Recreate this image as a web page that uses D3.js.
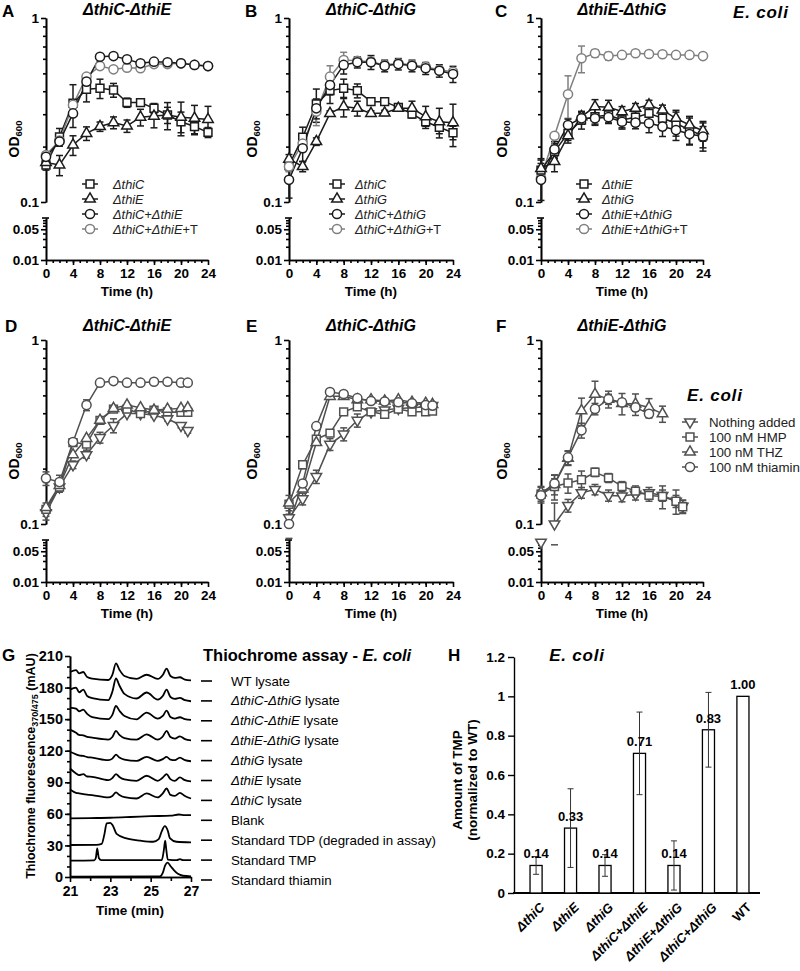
<!DOCTYPE html>
<html>
<head>
<meta charset="utf-8">
<script src="https://cdn.jsdelivr.net/npm/d3@7/dist/d3.min.js"></script>
<style>
html,body{margin:0;padding:0;background:#fff;}
svg{display:block;}
</style>
</head>
<body>
<svg id="chart" width="800" height="971"></svg>
<script>
// ================= DATA =================
const hours = [0, 2, 4, 6, 8, 10, 12, 14, 16, 18, 20, 22, 24];
const hoursB = [0, 2, 4, 6, 8, 10, 12, 14, 16, 18, 20, 21];
const hoursTo18 = [0, 2, 4, 6, 8, 10, 12, 14, 16, 18];
const hoursTo16 = [0, 2, 4, 6, 8, 10, 12, 14, 16];
const timeTicks = [0, 4, 8, 12, 16, 20, 24];
const odMajorTicks = [0.1, 1];
const odMinorTicks = [0.2, 0.3, 0.4, 0.5, 0.6, 0.7, 0.8, 0.9];
const odLowTicks = [0.01, 0.05];
const odLowMinor = [0.02, 0.03, 0.04, 0.06, 0.07, 0.08];

// Panel A  (ΔthiC-ΔthiE)
const aThiC    = [0.159, 0.226, 0.344, 0.41, 0.415, 0.406, 0.347, 0.347, 0.323, 0.297, 0.273, 0.257, 0.239];
const aThiCErr = [0.01, 0.025, 0.09, 0.06, 0.05, 0.035, 0.02, 0.015, 0.02, 0.03, 0.035, 0.025, 0.015];
const aThiE    = [0.164, 0.159, 0.204, 0.236, 0.257, 0.27, 0.259, 0.289, 0.293, 0.297, 0.289, 0.285, 0.281];
const aThiEErr = [0.01, 0.02, 0.025, 0.02, 0.015, 0.02, 0.02, 0.03, 0.04, 0.05, 0.06, 0.05, 0.05];
const aThiCE   = [0.176, 0.213, 0.303, 0.451, 0.616, 0.621, 0.596, 0.567, 0.579, 0.575, 0.567, 0.556, 0.548];
const aThiCET  = [0.18, 0.216, 0.337, 0.48, 0.548, 0.526, 0.537, 0.533, 0.562, 0.562, 0.567, 0.556, 0.548];

// Panel B  (ΔthiC-ΔthiG)
const bThiC     = [0.158, 0.225, 0.341, 0.403, 0.415, 0.403, 0.351, 0.351, 0.327, 0.301, 0.273, 0.255, 0.238];
const bThiCErr  = [0.01, 0.03, 0.07, 0.06, 0.05, 0.035, 0.015, 0.015, 0.015, 0.015, 0.015, 0.02, 0.02];
const bThiG     = [0.171, 0.156, 0.213, 0.303, 0.33, 0.323, 0.303, 0.305, 0.323, 0.323, 0.291, 0.273, 0.27];
const bThiGErr  = [0.01, 0.01, 0.01, 0.01, 0.04, 0.03, 0.01, 0.01, 0.01, 0.03, 0.04, 0.05, 0.07];
const bThiCG    = [0.132, 0.196, 0.323, 0.432, 0.556, 0.575, 0.575, 0.55, 0.562, 0.55, 0.533, 0.517, 0.496];
const bThiCGErr = [0.027, 0.03, 0.04, 0.05, 0.06, 0.04, 0.05, 0.04, 0.04, 0.04, 0.04, 0.04, 0.05];
const bThiCGT   = [0.156, 0.208, 0.31, 0.48, 0.591, 0.585, 0.579, 0.556, 0.567, 0.556, 0.544, 0.522, 0.51];
const bThiCGTErr= [0.01, 0.02, 0.05, 0.07, 0.06, 0.03, 0.03, 0.02, 0.02, 0.02, 0.02, 0.02, 0.02];

// Panel C  (ΔthiE-ΔthiG)
const cThiE      = [0.149, 0.188, 0.236, 0.279, 0.291, 0.297, 0.279, 0.289, 0.303, 0.285, 0.268, 0.246, 0.229];
const cThiEErr   = [0.02, 0.02, 0.02, 0.03, 0.03, 0.03, 0.03, 0.03, 0.03, 0.04, 0.04, 0.04, 0.04];
const cThiG      = [0.152, 0.166, 0.229, 0.291, 0.33, 0.327, 0.31, 0.323, 0.337, 0.316, 0.285, 0.262, 0.244];
const cThiGErr   = [0.02, 0.02, 0.02, 0.02, 0.03, 0.03, 0.02, 0.02, 0.02, 0.02, 0.03, 0.03, 0.03];
const cThiEG     = [0.132, 0.193, 0.262, 0.285, 0.285, 0.289, 0.273, 0.27, 0.268, 0.257, 0.246, 0.234, 0.227];
const cThiEGErr  = [0.03, 0.02, 0.02, 0.02, 0.02, 0.02, 0.02, 0.02, 0.03, 0.03, 0.03, 0.03, 0.03];
const cThiEGT    = [0.135, 0.229, 0.385, 0.604, 0.643, 0.621, 0.63, 0.643, 0.637, 0.635, 0.63, 0.63, 0.621];
const cThiEGTErr = [0, 0, 0.1, 0.1, 0.03, 0.03, 0, 0, 0, 0, 0, 0, 0];

// Panel D  (ΔthiC-ΔthiE, supplements)
const dNone       = [0.115, 0.159, 0.21, 0.238, 0.295, 0.343, 0.398, 0.398, 0.39, 0.373, 0.343, 0.322];
const dNoneErr    = [0.01, 0.01, 0.01, 0.01, 0.02, 0.03, 0.01, 0.01, 0.01, 0.01, 0.01, 0.01];
const dHMP        = [0.12, 0.159, 0.277, 0.272, 0.366, 0.421, 0.421, 0.398, 0.416, 0.407, 0.404, 0.404];
const dHMPErr     = [0.01, 0.01, 0.01, 0.02, 0.015, 0.01, 0.01, 0.01, 0.01, 0.01, 0.01, 0.01];
const dTHZ        = [0.123, 0.162, 0.238, 0.292, 0.366, 0.425, 0.443, 0.428, 0.416, 0.421, 0.425, 0.428];
const dThiamin    = [0.177, 0.169, 0.279, 0.443, 0.586, 0.598, 0.586, 0.586, 0.593, 0.593, 0.586, 0.586];
const dThiaminErr = [0.015, 0.015, 0.01, 0.03, 0, 0, 0, 0, 0, 0, 0, 0];

// Panel E  (ΔthiC-ΔthiG, supplements)
const eNone    = [0.108, 0.137, 0.181, 0.271, 0.308, 0.366, 0.407, 0.416, 0.425, 0.428, 0.434, 0.44];
const eNoneErr = [0.01, 0.01, 0.015, 0.02, 0.025, 0.03, 0.01, 0.01, 0.01, 0.01, 0.01, 0.01];
const eHMP     = [0.128, 0.21, 0.289, 0.312, 0.407, 0.434, 0.407, 0.394, 0.421, 0.407, 0.407, 0.411];
const eHMPErr  = [0.015, 0.01, 0.01, 0.01, 0.01, 0.01, 0.01, 0.01, 0.01, 0.01, 0.01, 0.01];
const eTHZ     = [0.13, 0.155, 0.277, 0.494, 0.494, 0.473, 0.473, 0.466, 0.473, 0.459, 0.453, 0.447];
const eThiamin = [0.1, 0.166, 0.34, 0.521, 0.509, 0.483, 0.466, 0.463, 0.459, 0.453, 0.443, 0.44];

// Panel F  (ΔthiE-ΔthiG, supplements)
const fNone       = [0.08, 0.1, 0.126, 0.148, 0.154, 0.143, 0.142, 0.145, 0.148, 0.143, 0.133, 0.125];
const fNoneErr    = [0, 0.03, 0.01, 0.01, 0.01, 0.01, 0.01, 0.01, 0.01, 0.01, 0.01, 0.01];
const fHMP        = [0.145, 0.16, 0.167, 0.174, 0.191, 0.178, 0.16, 0.151, 0.143, 0.141, 0.133, 0.124];
const fHMPErr     = [0.015, 0.025, 0.02, 0.02, 0.01, 0.01, 0.01, 0.01, 0.01, 0.02, 0.02, 0.01];
const fTHZ        = [0.148, 0.164, 0.228, 0.413, 0.507, 0.477, 0.452, 0.449, 0.43, 0.397];
const fTHZErr     = [0.01, 0.02, 0.02, 0.07, 0.09, 0.05, 0.06, 0.06, 0.05, 0.04];
const fThiamin    = [0.143, 0.166, 0.23, 0.323, 0.422, 0.477, 0.458, 0.43, 0.397];
const fThiaminErr = [0.01, 0.01, 0.02, 0.03, 0.03, 0.03, 0.02, 0.02, 0.02];

// Panel G  (thiochrome chromatograms, mAU vs min)
const gTimes  = [21.0, 21.3, 21.45, 21.66, 21.85, 22.1, 22.9, 23.1, 23.28, 23.45, 23.7, 24.3, 24.8, 25.35, 25.6, 25.79, 25.98, 26.2, 26.45, 26.7, 27.0];
const gWT     = [194.8, 196.5, 193.5, 194.8, 190, 188.5, 187.2, 192, 203, 197, 191, 188.2, 192.2, 188.2, 192, 198, 191, 189.2, 189.8, 187.5, 186.8];
const gCG     = [178, 180, 175.5, 178, 172, 170, 168, 176, 188.6, 182, 174, 169.6, 175.3, 168.6, 172, 178, 171, 169.3, 170.2, 168, 167];
const gCE     = [161, 160, 157.5, 159, 155, 152, 150, 154, 162.5, 158, 153, 149.8, 156.2, 150.5, 153, 158, 152, 150.5, 151.8, 150, 149.3];
const gEG     = [140, 137, 135, 134.5, 133.2, 132.4, 130.5, 133, 138.8, 135, 132, 130.5, 135.6, 130.5, 133.5, 138.8, 133, 131.5, 133.7, 131, 129.9];
const gG      = [119, 116.5, 115.5, 115, 114, 113.5, 111, 112.5, 116.3, 113.5, 111.5, 110.3, 114.2, 110.3, 112, 114.2, 111.5, 111, 113.5, 111, 110];
const gE      = [103.1, 98.4, 96.8, 97.8, 95.5, 95.2, 92, 94, 97.8, 95, 92.7, 91.4, 96.2, 91.4, 94.5, 97.8, 93, 91.4, 94.6, 92, 90.8];
const gC      = [83.2, 80, 79.5, 78.8, 78.3, 77.8, 75.6, 77, 80.4, 78, 75.8, 74.6, 79.4, 75.6, 79.5, 84.1, 78, 77, 80, 77, 74.6];
const gBlank  = [[21, 55.7], [22, 56], [23, 56.3], [24, 57], [25, 57.8], [26, 58.3], [26.4, 59.4], [26.7, 58.8], [27, 58.8]];
const gTDP    = [[21, 30.4], [22.3, 30.6], [22.57, 31.5], [22.7, 40], [22.82, 51], [23.0, 51.5], [23.12, 49], [23.31, 41], [23.8, 36.7], [24.5, 34.5], [25.12, 33.5], [25.4, 36], [25.54, 43], [25.7, 48.4], [25.85, 44], [25.95, 37], [26.28, 33.5], [27, 32.9]];
const gTMP    = [[21, 15.5], [22.2, 15.8], [22.28, 18], [22.35, 27.2], [22.43, 18], [22.55, 16], [25.55, 16], [25.65, 25], [25.72, 34.5], [25.78, 25], [25.85, 16.5], [26.3, 16], [26.45, 17], [26.6, 16], [27, 16]];
const gThiamin= [[21, 0.4], [25.45, 0.5], [25.6, 4], [25.72, 11], [25.84, 13.6], [26.0, 10], [26.15, 6.5], [26.35, 3], [26.6, 1.2], [27, 0.6]];
const gYTicks = [0, 30, 60, 90, 120, 150, 180, 210];
const gXTicks = [21, 23, 25, 27];
const gLegend = [
  [["WT lysate", "n"]],
  [["ΔthiC-ΔthiG", "i"], [" lysate", "n"]],
  [["ΔthiC-ΔthiE", "i"], [" lysate", "n"]],
  [["ΔthiE-ΔthiG", "i"], [" lysate", "n"]],
  [["ΔthiG", "i"], [" lysate", "n"]],
  [["ΔthiE", "i"], [" lysate", "n"]],
  [["ΔthiC", "i"], [" lysate", "n"]],
  [["Blank", "n"]],
  [["Standard TDP (degraded in assay)", "n"]],
  [["Standard TMP", "n"]],
  [["Standard thiamin", "n"]]
];

// Panel H  (TMP amount)
const hLabels = ["ΔthiC", "ΔthiE", "ΔthiG", "ΔthiC+ΔthiE", "ΔthiE+ΔthiG", "ΔthiC+ΔthiG", "WT"];
const hValues = [0.14, 0.33, 0.14, 0.71, 0.14, 0.83, 1.00];
const hErrors = [0.045, 0.2, 0.055, 0.21, 0.125, 0.19, 0];
const hYTicks = [0, 0.2, 0.4, 0.6, 0.8, 1, 1.2];

// ================= DRAWING =================
const svg = d3.select("#chart");
const FONT = '"Liberation Sans", Arial, Helvetica, sans-serif';
const BLACK = "#1b1b1b", GRAY = "#808080", DARK = "#505050";
svg.append("rect").attr("width", 800).attr("height", 971).attr("fill", "#fff");

function richText(sel, parts) {
  parts.forEach(p => {
    sel.append("tspan").text(p[0]).attr("font-style", p[1] === "i" ? "italic" : "normal");
  });
  return sel;
}
function txt(g, x, y, size, weight, anchor) {
  return g.append("text").attr("x", x).attr("y", y).attr("font-family", FONT)
    .attr("font-size", size).attr("font-weight", weight || "normal")
    .attr("text-anchor", anchor || "start").attr("fill", "#000");
}

const SYM = {square: d3.symbolSquare, circle: d3.symbolCircle, tri: d3.symbolTriangle, down: d3.symbolTriangle};
const SYM_SIZE = {square: 62, circle: 66, tri: 48, down: 48};
function marker(g, kind, cx, cy, color) {
  g.append("path").attr("d", d3.symbol().type(SYM[kind]).size(SYM_SIZE[kind])())
    .attr("transform", `translate(${cx},${cy})` + (kind === "down" ? " rotate(180)" : ""))
    .attr("fill", "#fff").attr("stroke", color).attr("stroke-width", 1.5);
}

const DEC = 184, AXB = 242, LDEC = 44;
function axStyle(s, fs, sw) {
  s.selectAll("path.domain, line").attr("stroke", "#000").attr("stroke-width", sw || 1.6);
  s.selectAll("text").attr("font-family", FONT).attr("font-weight", "bold").attr("font-size", fs).attr("fill", "#000");
}

function growth(p) {
  const g = svg.append("g");
  const x = d3.scaleLinear().domain([0, 24]).range([p.x0, p.x1]);
  const yU = d3.scaleLog().domain([0.1, 1]).range([p.yb + DEC, p.yb]);
  const yBase = p.yb + AXB;
  const yL = d3.scaleLog().domain([0.01, 0.09]).range([yBase, yBase - LDEC * Math.log10(9)]);
  const Y = v => v >= 0.1 ? yU(v) : yL(v);

  g.append("g").attr("transform", `translate(${p.x0},0)`)
    .call(d3.axisLeft(yU).tickValues(odMajorTicks).tickFormat(d => d === 1 ? "1" : "0.1").tickSize(5).tickSizeOuter(0).tickPadding(2))
    .call(s => axStyle(s, 13.5));
  g.append("g").attr("transform", `translate(${p.x0},0)`)
    .call(d3.axisLeft(yU).tickValues(odMinorTicks).tickFormat(() => "").tickSize(3).tickSizeOuter(0))
    .call(s => axStyle(s, 13.5));
  g.append("g").attr("transform", `translate(${p.x0},0)`)
    .call(d3.axisLeft(yL).tickValues(odLowTicks).tickFormat(d => d === 0.01 ? "0.01" : "0.05").tickSize(5).tickSizeOuter(0).tickPadding(2))
    .call(s => axStyle(s, 13.5));
  g.append("g").attr("transform", `translate(${p.x0},0)`)
    .call(d3.axisLeft(yL).tickValues(odLowMinor).tickFormat(() => "").tickSize(3).tickSizeOuter(0))
    .call(s => axStyle(s, 13.5));
  g.append("line").attr("x1", p.x0 - 4).attr("x2", p.x0 + 3).attr("y1", yL(0.09)).attr("y2", yL(0.09))
    .attr("stroke", "#000").attr("stroke-width", 1.6);

  g.append("g").attr("transform", `translate(0,${yBase})`)
    .call(d3.axisBottom(x).tickValues(timeTicks).tickSize(5).tickSizeOuter(0).tickPadding(3))
    .call(s => axStyle(s, 13.5));
  g.append("g").attr("transform", `translate(0,${yBase})`)
    .call(d3.axisBottom(x).tickValues(d3.range(1, 24)).tickFormat(() => "").tickSize(3).tickSizeOuter(0))
    .call(s => axStyle(s, 13.5));

  txt(g, (p.x0 + p.x1) / 2, yBase + 36, 13.5, "bold", "middle").text("Time (h)");
  const od = g.append("text").attr("transform", `translate(${p.ylx},${p.yb + AXB / 2}) rotate(-90)`)
    .attr("text-anchor", "middle").attr("font-family", FONT).attr("font-weight", "bold").attr("font-size", 14);
  od.append("tspan").text("OD");
  od.append("tspan").text("600").attr("font-size", 9.5).attr("dy", 3);

  richText(txt(g, (p.x0 + p.x1) / 2, p.titleY, 16, "bold", "middle"), p.title);
  txt(g, p.lx, p.letterY, 17, "bold").text(p.letter);

  const order = p.drawOrder || p.series.map((s, i) => i);
  order.forEach(k => {
    const s = p.series[k];
    s.v.forEach((v, i) => {
      const e = s.e ? s.e[i] : 0;
      if (!e) return;
      const cx = x(s.t[i]);
      const hi = v + e, lo = v - e;
      const eg = g.append("g").attr("stroke", s.color).attr("stroke-width", 1.5);
      if (v >= 0.1) {
        eg.append("line").attr("x1", cx).attr("x2", cx).attr("y1", Y(hi)).attr("y2", Y(Math.max(lo, 0.1)));
      }
      eg.append("line").attr("x1", cx - 3.5).attr("x2", cx + 3.5).attr("y1", Y(hi)).attr("y2", Y(hi));
      if (lo >= 0.01) eg.append("line").attr("x1", cx - 3.5).attr("x2", cx + 3.5).attr("y1", Y(lo)).attr("y2", Y(lo));
    });
  });
  order.forEach(k => {
    const s = p.series[k];
    const pts = s.t.map((t, i) => ({t, v: s.v[i]}));
    g.append("path").datum(pts)
      .attr("d", d3.line().defined(d => d.v >= 0.1).x(d => x(d.t)).y(d => Y(d.v)))
      .attr("fill", "none").attr("stroke", s.color).attr("stroke-width", 1.5);
  });
  order.forEach(k => {
    const s = p.series[k];
    s.t.forEach((t, i) => marker(g, s.sym, x(t), Y(s.v[i]), s.color));
  });
  if (p.legend) {
    p.series.forEach((s, i) => {
      const ly = p.legend.y + i * p.legend.dy;
      g.append("line").attr("x1", p.legend.x - 8).attr("x2", p.legend.x + 8).attr("y1", ly).attr("y2", ly)
        .attr("stroke", s.color).attr("stroke-width", 1.5);
      marker(g, s.sym, p.legend.x, ly, s.color);
      richText(txt(g, p.legend.tx, ly + 4.5, p.legend.fs, "normal").attr("fill", "#222"), s.label);
    });
  }
}

const legRow1 = (x, tx) => ({x, tx, y: 184, dy: 15, fs: 12.8});

// ---- Row 1 ----
growth({letter: "A", lx: 2, letterY: 17, x0: 46, x1: 208, yb: 18, ylx: 19, titleY: 15,
  title: [["ΔthiC-ΔthiE", "i"]], legend: legRow1(90, 113), drawOrder: [0, 1, 3, 2],
  series: [
    {t: hours, v: aThiC, e: aThiCErr, sym: "square", color: BLACK, label: [["ΔthiC", "i"]]},
    {t: hours, v: aThiE, e: aThiEErr, sym: "tri", color: BLACK, label: [["ΔthiE", "i"]]},
    {t: hours, v: aThiCE, sym: "circle", color: BLACK, label: [["ΔthiC+ΔthiE", "i"]]},
    {t: hours, v: aThiCET, sym: "circle", color: GRAY, label: [["ΔthiC+ΔthiE", "i"], ["+T", "n"]]}
  ]});
growth({letter: "B", lx: 245, letterY: 17, x0: 289, x1: 453, yb: 18, ylx: 257, titleY: 15,
  title: [["ΔthiC-ΔthiG", "i"]], legend: legRow1(337, 355), drawOrder: [0, 1, 3, 2],
  series: [
    {t: hours, v: bThiC, e: bThiCErr, sym: "square", color: BLACK, label: [["ΔthiC", "i"]]},
    {t: hours, v: bThiG, e: bThiGErr, sym: "tri", color: BLACK, label: [["ΔthiG", "i"]]},
    {t: hours, v: bThiCG, e: bThiCGErr, sym: "circle", color: BLACK, label: [["ΔthiC+ΔthiG", "i"]]},
    {t: hours, v: bThiCGT, e: bThiCGTErr, sym: "circle", color: GRAY, label: [["ΔthiC+ΔthiG", "i"], ["+T", "n"]]}
  ]});
growth({letter: "C", lx: 495, letterY: 17, x0: 541, x1: 703, yb: 18, ylx: 507, titleY: 15,
  title: [["ΔthiE-ΔthiG", "i"]], legend: legRow1(584, 602), drawOrder: [3, 0, 1, 2],
  series: [
    {t: hours, v: cThiE, e: cThiEErr, sym: "square", color: BLACK, label: [["ΔthiE", "i"]]},
    {t: hours, v: cThiG, e: cThiGErr, sym: "tri", color: BLACK, label: [["ΔthiG", "i"]]},
    {t: hours, v: cThiEG, e: cThiEGErr, sym: "circle", color: BLACK, label: [["ΔthiE+ΔthiG", "i"]]},
    {t: hours, v: cThiEGT, e: cThiEGTErr, sym: "circle", color: GRAY, label: [["ΔthiE+ΔthiG", "i"], ["+T", "n"]]}
  ]});
richText(txt(svg, 733, 18, 17, "bold").attr("letter-spacing", 0.8), [["E. coli", "i"]]);

// ---- Row 2 ----
const row2Series = (none, noneErr, hmp, hmpErr, thz, thzErr, thi, thiErr, tThz, tThi) => [
  {t: hoursB, v: none, e: noneErr, sym: "down", color: DARK, label: [["Nothing added", "n"]]},
  {t: hoursB, v: hmp, e: hmpErr, sym: "square", color: DARK, label: [["100 nM HMP", "n"]]},
  {t: tThz || hoursB, v: thz, e: thzErr, sym: "tri", color: DARK, label: [["100 nM THZ", "n"]]},
  {t: tThi || hoursB, v: thi, e: thiErr, sym: "circle", color: DARK, label: [["100 nM thiamin", "n"]]}
];
growth({letter: "D", lx: 5, letterY: 332, x0: 46, x1: 208, yb: 340, ylx: 19, titleY: 331,
  title: [["ΔthiC-ΔthiE", "i"]],
  series: row2Series(dNone, dNoneErr, dHMP, dHMPErr, dTHZ, null, dThiamin, dThiaminErr)});
growth({letter: "E", lx: 246, letterY: 332, x0: 289, x1: 453, yb: 340, ylx: 257, titleY: 331,
  title: [["ΔthiC-ΔthiG", "i"]],
  series: row2Series(eNone, eNoneErr, eHMP, eHMPErr, eTHZ, null, eThiamin, null)});
growth({letter: "F", lx: 496, letterY: 332, x0: 541, x1: 703, yb: 340, ylx: 507, titleY: 331,
  title: [["ΔthiE-ΔthiG", "i"]], legend: {x: 690, tx: 709, y: 422, dy: 15, fs: 13.3},
  series: row2Series(fNone, fNoneErr, fHMP, fHMPErr, fTHZ, fTHZErr, fThiamin, fThiaminErr, hoursTo18, hoursTo16)});
richText(txt(svg, 687, 401, 17, "bold").attr("letter-spacing", 0.8), [["E. coli", "i"]]);

// ---- Panel G ----
(function () {
  const g = svg.append("g");
  const x = d3.scaleLinear().domain([21, 27]).range([70, 191]);
  const y = d3.scaleLinear().domain([0, 210]).range([877, 656]);
  g.append("g").attr("transform", "translate(70,0)")
    .call(d3.axisLeft(y).tickValues(gYTicks).tickSize(5).tickSizeOuter(0).tickPadding(2))
    .call(s => axStyle(s, 14.5));
  g.append("g").attr("transform", "translate(70,0)")
    .call(d3.axisLeft(y).tickValues(d3.range(10, 210, 10)).tickFormat(() => "").tickSize(3).tickSizeOuter(0))
    .call(s => axStyle(s, 14.5));
  g.append("g").attr("transform", "translate(0,877)")
    .call(d3.axisBottom(x).tickValues(gXTicks).tickFormat(d3.format("d")).tickSize(5).tickSizeOuter(0).tickPadding(4))
    .call(s => axStyle(s, 14));
  g.append("g").attr("transform", "translate(0,877)")
    .call(d3.axisBottom(x).tickValues([22, 24, 26]).tickFormat(() => "").tickSize(4).tickSizeOuter(0))
    .call(s => axStyle(s, 14));
  txt(g, 130, 915, 13.5, "bold", "middle").text("Time (min)");
  const yl = g.append("text").attr("transform", "translate(35,766) rotate(-90)").attr("text-anchor", "middle")
    .attr("font-family", FONT).attr("font-weight", "bold").attr("font-size", 12.5);
  yl.append("tspan").text("Thiochrome fluorescence");
  yl.append("tspan").text("370/475").attr("font-size", 9).attr("dy", 3);
  yl.append("tspan").text(" (mAU)").attr("dy", -3);
  txt(g, 2, 661, 17, "bold").text("G");
  richText(txt(g, 203, 661, 16.5, "bold"), [["Thiochrome assay - ", "n"], ["E. coli", "i"]]);

  const lysates = [gWT, gCG, gCE, gEG, gG, gE, gC];
  const traces = lysates.map(arr => gTimes.map((t, i) => [t, arr[i]])).concat([gBlank, gTDP, gTMP, gThiamin]);
  const line = d3.line().curve(d3.curveMonotoneX).x(d => x(d[0])).y(d => y(d[1]));
  traces.forEach(tr => {
    g.append("path").attr("d", line(tr)).attr("fill", "none").attr("stroke", "#000").attr("stroke-width", 1.8);
  });
  gLegend.forEach((parts, i) => {
    const ly = 681 + i * 19.9;
    g.append("line").attr("x1", 201).attr("x2", 212).attr("y1", ly).attr("y2", ly).attr("stroke", "#000").attr("stroke-width", 1.6);
    richText(txt(g, 231, ly + 4.5, 13.3, "normal"), parts);
  });
})();

// ---- Panel H ----
(function () {
  const g = svg.append("g");
  const x = d3.scaleBand().domain(hLabels).range([519, 760]).paddingInner(0.65).paddingOuter(0.32);
  const y = d3.scaleLinear().domain([0, 1.2]).range([893, 657]);
  g.append("g").attr("transform", "translate(514,0)")
    .call(d3.axisLeft(y).tickValues(hYTicks).tickFormat(d => String(d)).tickSize(6).tickSizeOuter(0).tickPadding(3))
    .call(s => axStyle(s, 13.5, 1.4));
  g.append("line").attr("x1", 513).attr("x2", 760).attr("y1", 893).attr("y2", 893).attr("stroke", "#000").attr("stroke-width", 2);

  hLabels.forEach((lab, i) => {
    const cx = x(lab) + x.bandwidth() / 2;
    g.append("rect").attr("x", x(lab)).attr("y", y(hValues[i])).attr("width", x.bandwidth())
      .attr("height", y(0) - y(hValues[i])).attr("fill", "#fff").attr("stroke", "#000").attr("stroke-width", 1.3);
    const e = hErrors[i];
    if (e) {
      const eg = g.append("g").attr("stroke", "#333").attr("stroke-width", 1);
      eg.append("line").attr("x1", cx).attr("x2", cx).attr("y1", y(hValues[i] + e)).attr("y2", y(hValues[i] - e));
      eg.append("line").attr("x1", cx - 3).attr("x2", cx + 3).attr("y1", y(hValues[i] + e)).attr("y2", y(hValues[i] + e));
      eg.append("line").attr("x1", cx - 3).attr("x2", cx + 3).attr("y1", y(hValues[i] - e)).attr("y2", y(hValues[i] - e));
    }
    txt(g, cx, y(hValues[i]) - 7, 13, "bold", "middle").text(hValues[i].toFixed(2));
    g.append("text").attr("transform", `translate(${cx + 6},${905}) rotate(-45)`).attr("text-anchor", "end")
      .attr("dy", "0.35em").attr("font-family", FONT).attr("font-weight", "bold").attr("font-size", 13)
      .attr("font-style", lab === "WT" ? "normal" : "italic").text(lab);
  });
  const yl = g.append("text").attr("transform", "translate(462,780) rotate(-90)").attr("text-anchor", "middle")
    .attr("font-family", FONT).attr("font-weight", "bold").attr("font-size", 13.5);
  yl.append("tspan").attr("x", 0).attr("dy", 0).text("Amount of TMP");
  yl.append("tspan").attr("x", 0).attr("dy", 15).text("(normalized to WT)");
  txt(g, 448, 661, 17, "bold").text("H");
  richText(txt(g, 577, 661, 17, "bold", "middle").attr("letter-spacing", 0.8), [["E. coli", "i"]]);
})();
</script>
</body>
</html>
